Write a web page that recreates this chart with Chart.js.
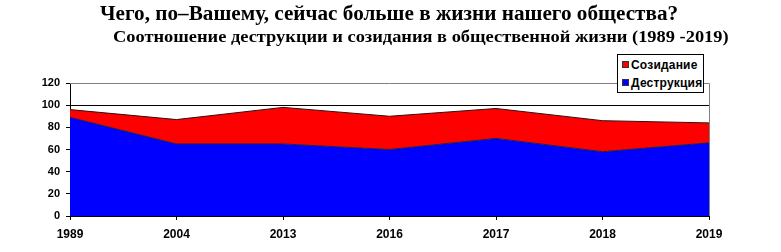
<!DOCTYPE html>
<html>
<head>
<meta charset="utf-8">
<script src="https://cdn.jsdelivr.net/npm/chart.js@4"></script>
<style>
  body { margin: 0; background: #fff; }
  #wrap { position: relative; width: 781px; height: 252px; }
  .ttl { position: absolute; font-family: "Liberation Serif", serif; font-weight: bold; white-space: nowrap; color: #000; }
  #t1 { left: 100px; top: 2px; font-size: 20px; transform-origin: left top; transform: scaleX(1.06); }
  #t2 { left: 113px; top: 28px; font-size: 16px; transform-origin: left top; transform: scaleX(1.15); }
  #legend { position: absolute; left: 617px; top: 54px; width: 85px; height: 37px; border: 1px solid #000; background: #fff;
            font-family: "Liberation Sans", Arial, sans-serif; font-weight: bold; font-size: 12px; letter-spacing: 0.2px; }
  #legend div { position: absolute; left: 4px; height: 14px; line-height: 14px; white-space: nowrap; }
  #legend span { display: inline-block; width: 5px; height: 5px; border: 1px solid #333; margin-right: 2px; vertical-align: 1px; }
</style>
</head>
<body>
<div id="wrap">
  <canvas id="my_chart" width="781" height="252"></canvas>
  <div class="ttl" id="t1">Чего, по–Вашему, сейчас больше в жизни нашего общества?</div>
  <div class="ttl" id="t2">Соотношение деструкции и созидания в общественной жизни (1989 -2019)</div>
  <div id="legend">
    <div style="top:3px"><span style="background:#ff0000"></span>Созидание</div>
    <div style="top:21px"><span style="background:#0000ff"></span>Деструкция</div>
  </div>
</div>
<script>
// categories and values
var years = ['1989', '2004', '2013', '2016', '2017', '2018', '2019'];
var destruction = [89, 65, 65, 60, 70, 58, 66];
var creation = [7, 22, 33, 30, 27, 28, 18];
var yTicks = [0, 20, 40, 60, 80, 100, 120];

// grey frame on top and right of the plot area
var framePlugin = {
    id: 'frame',
    afterDatasetsDraw: function (chart) {
        var a = chart.chartArea, ctx = chart.ctx;
        ctx.save();
        ctx.strokeStyle = '#808080';
        ctx.lineWidth = 1;
        ctx.beginPath();
        ctx.moveTo(a.left, a.top + 0.5);
        ctx.lineTo(a.right + 0.5, a.top + 0.5);
        ctx.lineTo(a.right + 0.5, a.bottom);
        ctx.stroke();
        ctx.restore();
    }
};

var ctx = document.getElementById('my_chart').getContext('2d');
var chart = new Chart(ctx, {
    type: 'line',
    data: {
        labels: years,
        datasets: [
            {
                label: 'Деструкция',
                data: destruction,
                backgroundColor: '#0000ff',
                borderColor: '#202040',
                borderWidth: 1,
                fill: 'origin',
                pointRadius: 0,
                tension: 0
            },
            {
                label: 'Созидание',
                data: creation,
                backgroundColor: '#ff0000',
                borderColor: '#301010',
                borderWidth: 1,
                fill: '-1',
                pointRadius: 0,
                tension: 0
            }
        ]
    },
    options: {
        responsive: false,
        animation: false,
        layout: { padding: { left: 0, top: 83, right: 72, bottom: 0 } },
        plugins: {
            legend: { display: false },
            title: { display: false },
            tooltip: { enabled: false }
        },
        scales: {
            x: {
                offset: false,
                afterFit: function (s) { s.height = 36; },
                grid: { drawOnChartArea: false, drawTicks: true, tickLength: 4, tickColor: '#000' },
                border: { color: '#000', width: 1 },
                ticks: { color: '#000', padding: 7, maxRotation: 0, font: { family: 'Liberation Sans', size: 12, weight: 'bold' } }
            },
            y: {
                stacked: true,
                min: 0,
                max: 120,
                afterFit: function (s) { s.width = 70; },
                afterBuildTicks: function (s) { s.ticks = yTicks.map(function (v) { return { value: v }; }); },
                grid: {
                    color: function (c) { return c.tick && c.tick.value === 100 ? '#000' : 'rgba(0,0,0,0)'; },
                    drawTicks: true, tickLength: 4, tickColor: '#000'
                },
                border: { color: '#000', width: 1 },
                ticks: { color: '#000', padding: 6, font: { family: 'Liberation Sans', size: 11, weight: 'bold' } }
            }
        }
    },
    plugins: [framePlugin]
});
</script>
</body>
</html>
